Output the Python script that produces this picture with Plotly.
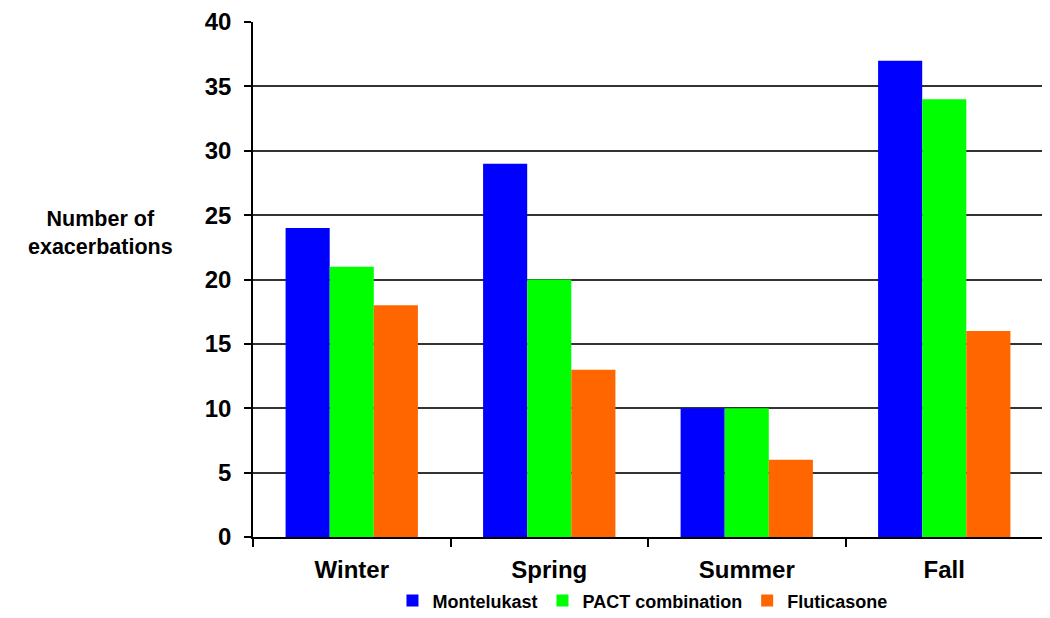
import plotly.graph_objects as go

seasons = ["Winter", "Spring", "Summer", "Fall"]
montelukast = [24, 29, 10, 37]
pact = [21, 20, 10, 34]
fluticasone = [18, 13, 6, 16]
y_ticks = [0, 5, 10, 15, 20, 25, 30, 35, 40]

FONT = "Liberation Sans, Arial, sans-serif"

fig = go.Figure()
fig.add_trace(go.Bar(x=seasons, y=montelukast, name="Montelukast", marker=dict(color="#0000FF", line=dict(width=0))))
fig.add_trace(go.Bar(x=seasons, y=pact, name="PACT combination", marker=dict(color="#00FF00", line=dict(width=0))))
fig.add_trace(go.Bar(x=seasons, y=fluticasone, name="Fluticasone", marker=dict(color="#FF6600", line=dict(width=0))))

# page body has an 8px margin, so the figure is 8px smaller and margins shifted
fig.update_layout(
    width=1042, height=610,
    margin=dict(l=245, r=7, t=14, b=81, autoexpand=False),
    paper_bgcolor="white", plot_bgcolor="white",
    barmode="group", bargap=0.33, bargroupgap=0,
    font=dict(family=FONT, color="black"),
    legend=dict(orientation="h", x=0.493, xanchor="center", y=-0.088, yanchor="top",
                bgcolor="rgba(0,0,0,0)",
                font=dict(family=FONT, size=18, weight="bold", color="black"),
                itemwidth=30, tracegroupgap=0),
    xaxis=dict(showline=True, linecolor="black", linewidth=1.5, automargin=False,
               ticks="outside", tickson="boundaries", ticklen=8, tickwidth=1.5, tickcolor="black",
               tickfont=dict(family=FONT, size=24, weight="bold", color="black"),
               ticklabelstandoff=10, showgrid=False),
    yaxis=dict(range=[0, 40], tickvals=y_ticks, showline=True, linecolor="black", linewidth=1.5,
               mirror=True, automargin=False,
               ticks="outside", ticklen=7, tickwidth=1.5, tickcolor="black",
               tickfont=dict(family=FONT, size=24, weight="bold", color="black"),
               ticklabelstandoff=8,
               showgrid=True, gridcolor="#333333", gridwidth=1.5, zeroline=False),
    annotations=[dict(text="Number of<br>exacerbations", xref="paper", yref="paper",
                      x=-0.193, y=0.59, xanchor="center", yanchor="middle", showarrow=False,
                      font=dict(family=FONT, size=21.5, weight="bold", color="black"))],
)

fig.write_html("out.html")
